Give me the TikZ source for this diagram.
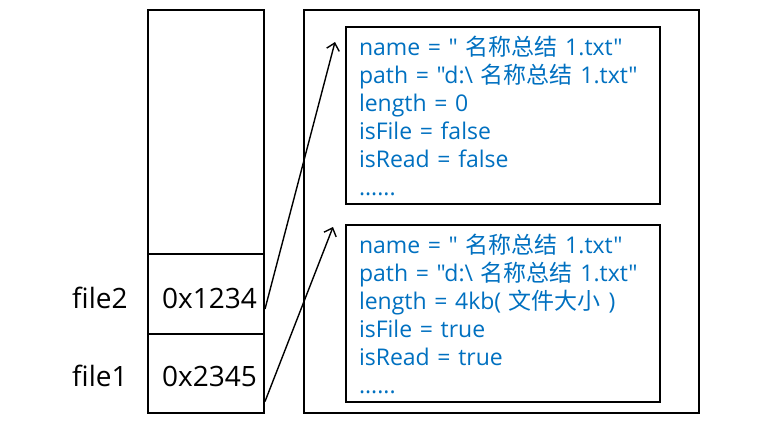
\documentclass[tikz,border=0pt]{standalone}
\usepackage{fontspec}
\setmainfont{Open Sans}[Ligatures=TeXOff]
\newfontfamily\cjk{Noto Sans CJK SC}
\usetikzlibrary{arrows.meta,calc}
\definecolor{txtblue}{HTML}{0070C0}
\begin{document}
\begin{tikzpicture}[x=1pt,y=-1pt,
  box/.style={draw=black,line width=2pt,inner sep=0pt,anchor=north west},
  info/.style={box,minimum width=314pt,minimum height=177pt,text width=288pt,align=left,inner xsep=13pt,
    text=txtblue,font=\fontsize{23}{28}\selectfont},
  lbl/.style={font=\fontsize{28}{32}\selectfont,anchor=base west,inner sep=0pt},
  ptr/.style={line width=1.4pt,-{Straight Barb[length=7pt,width=13pt]}}]
\useasboundingbox (0,0) rectangle (774,429);
% stack
\node[box,minimum width=116pt,minimum height=244pt] (top) at (147,9) {};
\node[box,minimum width=116pt,minimum height=80pt] (c2) at (147,253) {};
\node[box,minimum width=116pt,minimum height=79pt] (c1) at (147,333) {};
\node[lbl] (v2) at (162,308) {0x1234};
\node[lbl] (v1) at (162,386) {0x2345};
\node[lbl] (n2) at (72,308) {file2};
\node[lbl] (n1) at (72,386) {file1};
% heap
\node[box,minimum width=395pt,minimum height=403pt] (heap) at (303,9) {};
\node[info] (o2) at (345,26) {name = "\ {\cjk 名称总结} 1.txt"\\path = "d:\textbackslash\ {\cjk 名称总结} 1.txt"\\length = 0\\isFile = false\\isRead = false\\......};
\node[info] (o1) at (345,224) {name = "\ {\cjk 名称总结} 1.txt"\\path = "d:\textbackslash\ {\cjk 名称总结} 1.txt"\\length = 4kb( {\cjk 文件大小} )\\isFile = true\\isRead = true\\......};
% pointers
\coordinate (t2) at ($(o2.north west)+(-10,16)$);
\coordinate (t1) at ($(o1.north west)+(-12,3)$);
\draw[ptr] ($(c2.east)+(0,15)$) -- (t2);
\draw[ptr] ($(c1.east)+(0,28)$) -- (t1);
\end{tikzpicture}
\end{document}
